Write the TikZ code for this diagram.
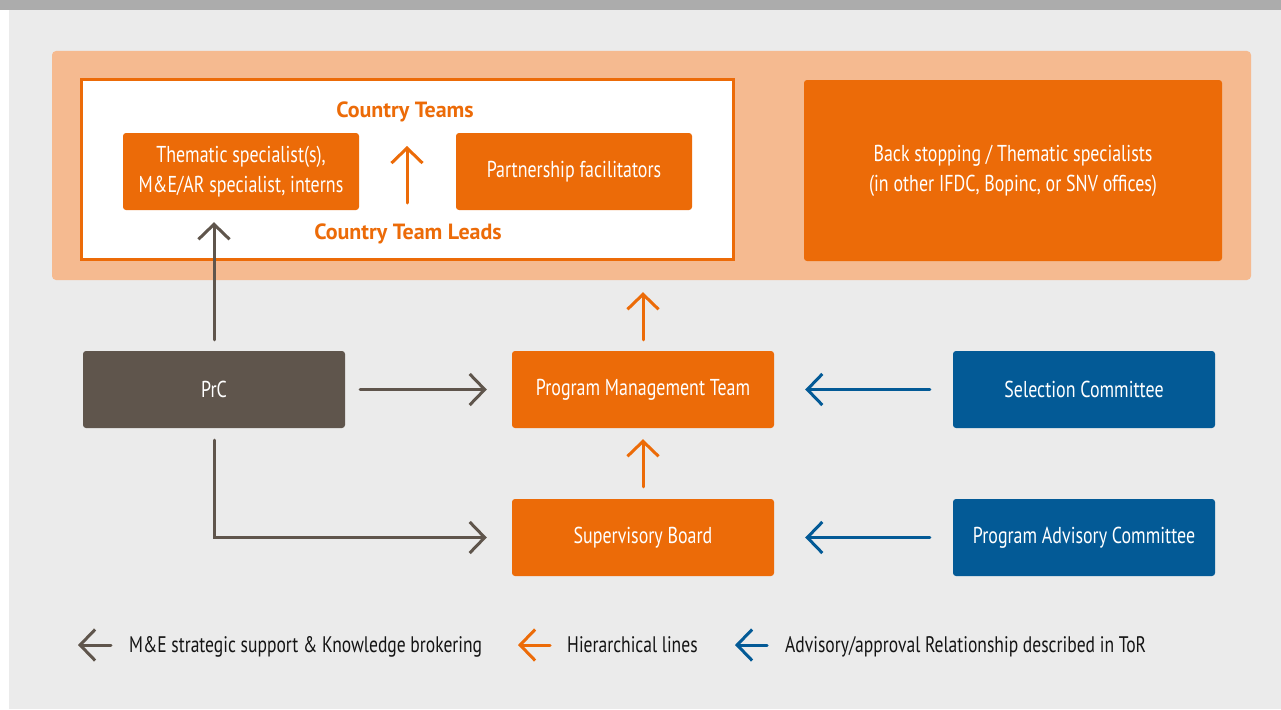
\documentclass[tikz,border=0pt]{standalone}
\usepackage{fontspec}
\setmainfont[FakeStretch=0.78]{PT Sans}
\newfontfamily\heavyfont{PT Sans}
\usepackage{xcolor}
\usetikzlibrary{arrows.meta, calc, positioning}
\definecolor{ifdcorange}{HTML}{EC6B08}
\definecolor{ifdcpeach}{HTML}{F5BA90}
\definecolor{ifdcbrown}{HTML}{5F554C}
\definecolor{ifdcblue}{HTML}{035A96}
\definecolor{ifdcbg}{HTML}{EBEBEB}
\definecolor{ifdcbar}{HTML}{ACACAC}
\tikzset{
    box/.style = {rounded corners=3pt, text=white, align=center, inner sep=0pt,
        minimum width=262pt, minimum height=77pt, font=\fontsize{23}{30}\selectfont},
    obox/.style = {box, fill=ifdcorange},
    gbox/.style = {box, fill=ifdcbrown},
    bbox/.style = {box, fill=ifdcblue},
    link/.style = {line width=3pt, line cap=round,
        -{Straight Barb[length=15pt,width=31pt]}},
    garrow/.style = {link, draw=ifdcbrown},
    oarrow/.style = {link, draw=ifdcorange},
    barrow/.style = {link, draw=ifdcblue},
    teamlabel/.style = {text=ifdcorange, font=\fontsize{22}{26}\heavyfont\bfseries},
    legend/.style = {anchor=base west, inner sep=0pt, text=black!92,
        font=\fontsize{22.5}{27}\selectfont},
}
\begin{document}
\begin{tikzpicture}[x=1pt,y=-1pt]
\useasboundingbox (0,0) rectangle (1281,709);
\fill[white] (0,0) rectangle (1281,709);
\fill[ifdcbar] (0,0) rectangle (1281,10);
\fill[ifdcbg] (9,10) rectangle (1281,709);

\node[fill=ifdcpeach, rounded corners=4pt, minimum width=1199pt, minimum height=229pt,
    inner sep=0pt] (panel) at (651.5,165.5) {};
\node[fill=white, draw=ifdcorange, line width=3pt, minimum width=652pt,
    minimum height=180pt, inner sep=0pt] (country) at (407.5,169.5) {};

\node[obox, minimum width=236pt] (thematic) at (241,171.5)
    {Thematic specialist(s),\\M\&E/AR specialist, interns};
\node[obox, minimum width=236pt] (partner) at (574,171.5) {Partnership facilitators};
\node[teamlabel] (teams) at (405,112) {Country Teams};
\node[teamlabel] (leads) at (408,234) {Country Team Leads};
\coordinate (leadsup) at (407,203);
\coordinate (teamsup) at (407,146);
\draw[oarrow] (leadsup) -- (teamsup);

\node[obox, minimum width=418pt, minimum height=181pt] (backstop) at (1013,170.5)
    {Back stopping / Thematic specialists\\(in other IFDC, Bopinc, or SNV offices)};

\node[gbox] (PrC) at (214,389.5) {PrC};
\node[obox] (PMT) at (643,389.5) {Program Management Team};
\node[bbox] (SC) at (1084,389.5) {Selection Committee};
\node[obox] (SB) at (643,537.5) {Supervisory Board};
\node[bbox] (PAC) at (1084,537.5) {Program Advisory Committee};

\draw[garrow, shorten <=11pt, shorten >=12pt] (PrC.north) -- (PrC.north |- thematic.south);
\draw[garrow, shorten <=15pt, shorten >=25pt] (PrC.east) -- (PMT.west);
\draw[garrow, shorten <=12pt, shorten >=25pt] (PrC.south) |- (SB.west);
\draw[oarrow, shorten <=11pt, shorten >=12pt] (PMT.north) -- (PMT.north |- panel.south);
\draw[oarrow, shorten <=12pt, shorten >=11pt] (SB.north) -- (PMT.south);
\draw[barrow, shorten <=23pt, shorten >=31pt] (SC.west) -- (PMT.east);
\draw[barrow, shorten <=23pt, shorten >=31pt] (PAC.west) -- (SB.east);

\node[legend] (lbrown) at (129,652) {M\&E strategic support \& Knowledge brokering};
\node[legend] (lorange) at (567,652) {Hierarchical lines};
\node[legend] (lblue) at (785,652) {Advisory/approval Relationship described in ToR};
\coordinate (kbrown) at (78,645);
\coordinate (korange) at (518,645);
\coordinate (kblue) at (735,645);
\draw[garrow, shorten <=18pt] (lbrown.west |- kbrown) -- (kbrown);
\draw[oarrow, shorten <=17pt] (lorange.west |- korange) -- (korange);
\draw[barrow, shorten <=18pt] (lblue.west |- kblue) -- (kblue);
\end{tikzpicture}
\end{document}
